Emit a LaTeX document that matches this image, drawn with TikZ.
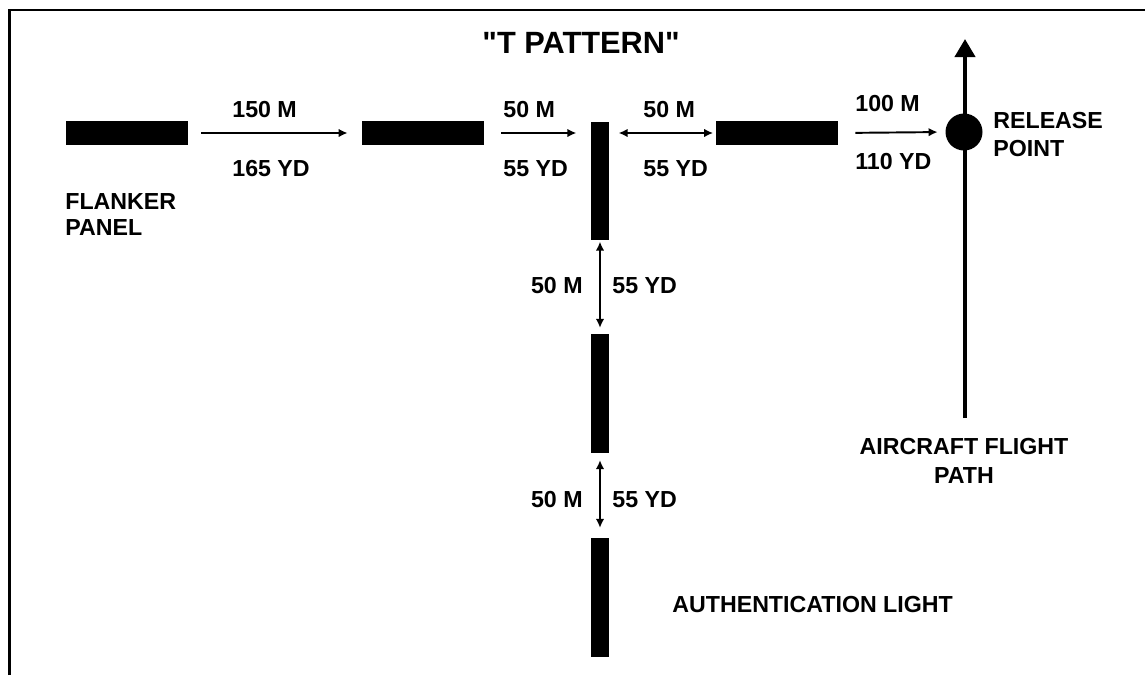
\documentclass[tikz,border=0pt]{standalone}
\usepackage{fontspec}
\setmainfont{Liberation Sans}[Ligatures=TeXOff]
\usepackage{tikz}
\usetikzlibrary{arrows.meta, positioning, calc}
\definecolor{fondo}{HTML}{FFFFFF}
\definecolor{tinta}{HTML}{000000}

\begin{document}
\begin{tikzpicture}[font=\bfseries\fontsize{13.2}{15}\selectfont, >=Latex,
        panelH/.style={fill=tinta, minimum width=2.44cm, minimum height=0.48cm, inner sep=0},
        panelV/.style={fill=tinta, minimum width=0.37cm, minimum height=2.37cm, inner sep=0},
        dist/.style={-{Latex[length=1.8mm,width=1.7mm]}, line width=1.1pt, tinta},
        dist2/.style={{Latex[length=1.8mm,width=1.7mm]}-{Latex[length=1.8mm,width=1.7mm]}, line width=1.1pt, tinta},
        lbl/.style={inner sep=0, text=tinta}]
        \useasboundingbox (0,0) rectangle (22.9,-13.5);
        \fill[fondo] (0,0) rectangle (22.9,-13.5);
        \draw[tinta, line width=1.7pt] (0.19,-13.5) -- (0.19,-0.2) -- (22.9,-0.2);
        \node[lbl, font=\bfseries\fontsize{17.5}{20}\selectfont] (tit) at (11.62,-0.86) {"T PATTERN"};
        % paneles
        \node[panelH] (fl) at (2.54,-2.66)  {};
        \node[panelH] (p2) at (8.46,-2.66)  {};
        \node[panelH] (p4) at (15.54,-2.66) {};
        \node[panelV] (t1) at (12.0,-3.62)  {};
        \node[panelV] (t2) at (12.0,-7.87)  {};
        \node[panelV] (t3) at (12.0,-11.95) {};
        \node[circle, fill=tinta, minimum size=0.74cm, inner sep=0] (rp) at (19.28,-2.64) {};
        \coordinate (fpS) at (19.3,-8.36);
        \coordinate (fpN) at (19.3,-0.78);
        \draw[tinta, line width=2.3pt, -{Triangle[length=3.6mm,width=4mm]}] (fpS) -- (fpN);
        % distancias
        \draw[dist, shorten <=0.26cm, shorten >=0.28cm] (fl.east) -- (p2.west);
        \draw[dist, shorten <=0.34cm, shorten >=0.28cm] (p2.east) -- (p2.east -| t1.west);
        \draw[dist2, shorten <=0.18cm, shorten >=0.05cm] (t1.east |- p4.west) -- (p4.west);
        \draw[dist, shorten <=0.34cm, shorten >=0.15cm] (p4.east) -- (rp.west);
        \draw[dist2, shorten <=0.02cm, shorten >=0.12cm] (t1.south) -- (t2.north);
        \draw[dist2, shorten <=0.14cm, shorten >=0.2cm] (t2.south) -- (t3.north);
        \node[lbl, anchor=west] (m1) at (4.64,-2.2)   {150 M};
        \node[lbl, anchor=west] (y1) at (4.64,-3.37)  {165 YD};
        \node[lbl, anchor=west] (m2) at (10.06,-2.2)  {50 M};
        \node[lbl, anchor=west] (y2) at (10.06,-3.37) {55 YD};
        \node[lbl, anchor=west] (m3) at (12.86,-2.2)  {50 M};
        \node[lbl, anchor=west] (y3) at (12.86,-3.37) {55 YD};
        \node[lbl, anchor=west] (m4) at (17.1,-2.07)  {100 M};
        \node[lbl, anchor=west] (y4) at (17.1,-3.23)  {110 YD};
        \node[lbl, anchor=east] (m5) at (11.66,-5.72) {50 M};
        \node[lbl, anchor=west] (y5) at (12.24,-5.72) {55 YD};
        \node[lbl, anchor=east] (m6) at (11.66,-10.0) {50 M};
        \node[lbl, anchor=west] (y6) at (12.24,-10.0) {55 YD};
        % rotulos
        \node[lbl, anchor=north west, align=left] (flTxt) at (1.3,-3.86) {FLANKER\\PANEL};
        \node[lbl, anchor=north west, align=left, font=\bfseries\fontsize{13.2}{16}\selectfont] (rpTxt) at (19.86,-2.24) {RELEASE\\POINT};
        \node[lbl, anchor=north, align=center, font=\bfseries\fontsize{13.2}{16.5}\selectfont] (fpTxt) at (19.28,-8.76) {AIRCRAFT FLIGHT\\PATH};
        \node[lbl, anchor=west] (alTxt) at (13.44,-12.08) {AUTHENTICATION LIGHT};
    \end{tikzpicture}
\end{document}
